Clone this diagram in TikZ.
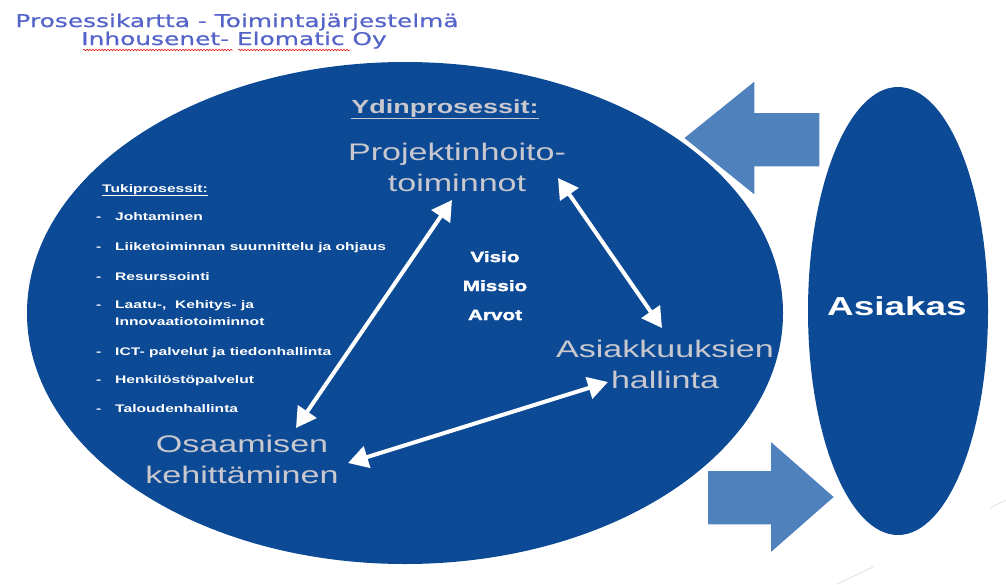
\documentclass[tikz,border=0pt]{standalone}
\usepackage{fontspec}
\usetikzlibrary{arrows.meta,shapes.geometric,decorations.pathmorphing}
\newfontfamily\bodyfont{Liberation Sans}[FakeStretch=1.42]
\newfontfamily\heavyfont{Liberation Sans Bold}[FakeStretch=1.38, FakeBold=2.2]
\newfontfamily\headfont{DejaVu Sans}[FakeStretch=1.42, FakeBold=0.8]
\definecolor{deepblue}{RGB}{12,74,150}
\definecolor{arrowblue}{RGB}{79,129,189}
\definecolor{softgrey}{RGB}{200,200,206}
\definecolor{titleblue}{RGB}{85,100,200}
\tikzset{
  blob/.style={ellipse, fill=deepblue, inner sep=0pt},
  blockarrow/.style={fill=arrowblue, draw=white, line width=1.5pt, line join=miter},
  corelabel/.style={text=softgrey, font=\bodyfont\fontsize{24}{31}\selectfont, align=center, inner sep=0pt},
  supportitem/.style={text=white, font=\bodyfont\bfseries\fontsize{11}{17}\selectfont, align=left, inner sep=0pt, anchor=base west},
  titleline/.style={text=titleblue, font=\headfont\fontsize{17.5}{18}\selectfont, inner sep=0pt, anchor=base},
  flow/.style={white, line width=4pt, {Triangle[length=20pt,width=22pt]}-{Triangle[length=20pt,width=22pt]}},
  spellmark/.style={red!85!black, line width=0.5pt, decorate, decoration={snake, amplitude=0.8pt, segment length=3pt}}
}
\newcommand{\dashitem}{\makebox[19pt][l]{-}}
\begin{document}
\begin{tikzpicture}[x=1pt,y=-1pt]
\useasboundingbox (0,0) rectangle (1006,584);

% title
\node[titleline] (title1) at (237,27) {Prosessikartta - Toimintajärjestelmä};
\node[titleline] (title2) at (234,45) {Inhousenet- Elomatic Oy};
\coordinate (sq1a) at (83,50);  \coordinate (sq1b) at (233,50);
\coordinate (sq2a) at (238,50); \coordinate (sq2b) at (350,50);
\draw[spellmark] (sq1a) -- (sq1b);
\draw[spellmark] (sq2a) -- (sq2b);

% organisation and customer
\node[blob, minimum width=756pt, minimum height=502pt] (org) at (405,313) {};
\node[blob, minimum width=180pt, minimum height=448pt] (client) at (898,311) {};
\node[text=white, font=\bodyfont\bfseries\fontsize{26}{30}\selectfont, inner sep=0pt, anchor=base] (clientlabel) at (897,315) {Asiakas};

% exchange with the customer
\fill[blockarrow] (683,138) -- (755,80) -- (755,112) -- (820,112) -- (820,167) -- (755,167) -- (755,196) -- cycle;
\fill[blockarrow] (707,470) -- (770,470) -- (770,440) -- (835,497) -- (770,554) -- (770,525) -- (707,525) -- cycle;

% core processes
\node[text=softgrey, font=\bodyfont\bfseries\fontsize{19}{22}\selectfont, inner sep=0pt, anchor=base] (core) at (445,113) {\underline{Ydinprosessit:}};
\node[corelabel, anchor=north] (project) at (457,143) {Projektinhoito-\\toiminnot};
\node[corelabel, anchor=north] (accounts) at (665,340) {Asiakkuuksien\\hallinta};
\node[corelabel, anchor=north] (skills) at (242,435) {Osaamisen\\kehittäminen};

% vision, mission, values
\node[text=white, font=\heavyfont\fontsize{15}{29}\selectfont, align=center, inner sep=0pt, anchor=north] (values) at (495,251) {Visio\\Missio\\Arvot};

% support processes
\node[supportitem] (support) at (102,192) {\underline{Tukiprosessit:}};
\node[supportitem] (s1) at (96,220) {\dashitem Johtaminen};
\node[supportitem] (s2) at (96,250) {\dashitem Liiketoiminnan suunnittelu ja ohjaus};
\node[supportitem] (s3) at (96,280) {\dashitem Resurssointi};
\node[supportitem, anchor=north west] (s4) at (96,300) {\dashitem Laatu-,~ Kehitys- ja\\\hspace*{19pt}Innovaatiotoiminnot};
\node[supportitem] (s5) at (96,355) {\dashitem ICT- palvelut ja tiedonhallinta};
\node[supportitem] (s6) at (96,383) {\dashitem Henkilöstöpalvelut};
\node[supportitem] (s7) at (96,412) {\dashitem Taloudenhallinta};

% links between the core processes
\coordinate (pLow) at (452,200);
\coordinate (pRight) at (558,178);
\coordinate (aTop) at (662,328);
\coordinate (aLeft) at (608,382);
\coordinate (sTop) at (296,428);
\coordinate (sRight) at (348,463);
\draw[flow] (sTop) -- (pLow);
\draw[flow] (pRight) -- (aTop);
\draw[flow] (sRight) -- (aLeft);

% faint marks at the lower right
\coordinate (m1a) at (990,508); \coordinate (m1b) at (1006,500);
\coordinate (m2a) at (837,584); \coordinate (m2b) at (873,567);
\draw[gray!30, line width=0.6pt] (m1a) -- (m1b);
\draw[gray!30, line width=0.6pt] (m2a) -- (m2b);
\end{tikzpicture}
\end{document}
